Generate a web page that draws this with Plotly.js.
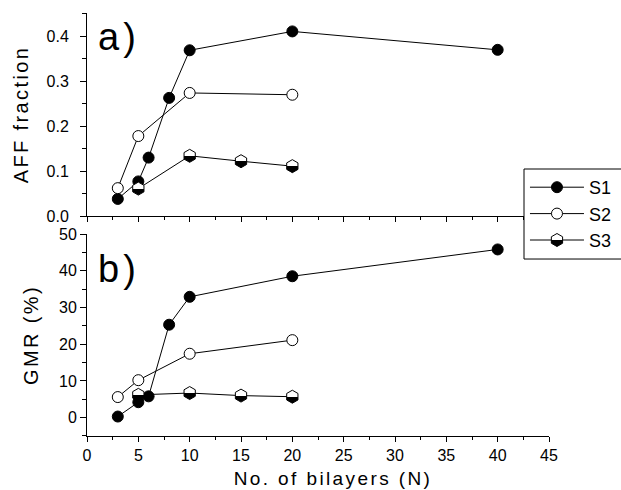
<!DOCTYPE html>
<html>
<head>
<meta charset="utf-8">
<script src="https://cdn.plot.ly/plotly-3.0.1.min.js"></script>
<style>
  html, body { margin: 0; padding: 0; background: #fff; }
  #chart { width: 621px; height: 490px; }
  text.xtitle, text.x2title, text.ytitle, text.y2title { letter-spacing: 2.4px; }
  text.x2title { transform: translate(15px, 0px); }
  .annotation-text { letter-spacing: 4px; }
</style>
</head>
<body>
<div id="chart"></div>
<script>
// Number of bilayers for each sample series
const nS1 = [3, 5, 6, 8, 10, 20, 40];
const nS2 = [3, 5, 10, 20];
const nS3 = [5, 10, 15, 20];

// (a) AFF fraction
const affS1 = [0.038, 0.077, 0.130, 0.263, 0.369, 0.411, 0.370];
const affS2 = [0.062, 0.178, 0.274, 0.270];
const affS3 = [0.061, 0.134, 0.122, 0.111];

// (b) GMR (%)
const gmrS1 = [0.3, 4.2, 5.8, 25.3, 32.9, 38.5, 45.8];
const gmrS2 = [5.6, 10.2, 17.4, 21.1];
const gmrS3 = [6.2, 6.7, 6.0, 5.7];

const seriesNames = ['S1', 'S2', 'S3'];
const xTickVals = [0, 5, 10, 15, 20, 25, 30, 35, 40, 45];

const FONT = '"Liberation Sans", Arial, sans-serif';
const lineStyle = { color: '#000', width: 1 };

const markerS1 = { symbol: 'circle', size: 11, color: '#000', line: { color: '#000', width: 1 } };
const markerS2 = { symbol: 'circle', size: 11, color: '#fff', line: { color: '#000', width: 1 } };
// half-filled hexagon: white top, black bottom (gradient stops sharpened after render)
const markerS3 = { symbol: 'hexagon', size: 13, color: '#fff',
                   gradient: { type: 'vertical', color: '#000' },
                   line: { color: '#000', width: 1 } };

function series(x, y, name, marker, xa, ya, show) {
  return { x: x, y: y, name: name, type: 'scatter', mode: 'lines+markers',
           line: lineStyle, marker: marker, xaxis: xa, yaxis: ya,
           showlegend: show, legendgroup: name };
}

const traces = [
  series(nS1, affS1, seriesNames[0], markerS1, 'x', 'y', true),
  series(nS2, affS2, seriesNames[1], markerS2, 'x', 'y', true),
  series(nS3, affS3, seriesNames[2], markerS3, 'x', 'y', true),
  series(nS1, gmrS1, seriesNames[0], markerS1, 'x2', 'y2', false),
  series(nS2, gmrS2, seriesNames[1], markerS2, 'x2', 'y2', false),
  series(nS3, gmrS3, seriesNames[2], markerS3, 'x2', 'y2', false)
];

const axisBase = {
  showline: true, linecolor: '#000', linewidth: 1,
  showgrid: false, zeroline: false,
  ticks: 'outside', tickcolor: '#000', tickwidth: 1,
  tickfont: { family: FONT, size: 16, color: '#000' }
};

const layout = {
  width: 621, height: 490,
  paper_bgcolor: '#fff', plot_bgcolor: 'rgba(0,0,0,0)',
  font: { family: FONT, color: '#000' },
  margin: { l: 87, r: 72, t: 13, b: 54, autoexpand: false },
  xaxis: Object.assign({}, axisBase, {
    anchor: 'y', domain: [0, 1], range: [0, 45],
    tickvals: xTickVals, ticklen: 5, showticklabels: false,
    minor: { dtick: 2.5, tick0: 0, ticks: 'outside', ticklen: 3, tickcolor: '#000' }
  }),
  yaxis: Object.assign({}, axisBase, {
    anchor: 'x', domain: [0.5201, 1], range: [0, 0.452],
    dtick: 0.1, tick0: 0, tickformat: '.1f', ticklen: 6, ticklabelstandoff: 8,
    minor: { dtick: 0.05, tick0: 0, ticks: 'outside', ticklen: 4, tickcolor: '#000' },
    title: { text: 'AFF fraction', font: { family: FONT, size: 20, color: '#000' }, standoff: 12 }
  }),
  xaxis2: Object.assign({}, axisBase, {
    anchor: 'y2', domain: [0, 1], range: [0, 45],
    tickvals: xTickVals, ticklen: 5,
    minor: { dtick: 2.5, tick0: 0, ticks: 'outside', ticklen: 3, tickcolor: '#000' },
    title: { text: 'No. of bilayers (N)', font: { family: FONT, size: 19, color: '#000' }, standoff: 8 }
  }),
  yaxis2: Object.assign({}, axisBase, {
    anchor: 'x2', domain: [0, 0.4775], range: [-5, 50],
    dtick: 10, tick0: 0, ticklen: 6, ticklabelstandoff: 0,
    minor: { dtick: 5, tick0: 0, ticks: 'outside', ticklen: 4, tickcolor: '#000' },
    title: { text: 'GMR (%)', font: { family: FONT, size: 20, color: '#000' }, standoff: 14 }
  }),
  legend: {
    x: 0.948, y: 0.6312, xanchor: 'left', yanchor: 'top',
    bgcolor: 'rgba(0,0,0,0)', borderwidth: 0,
    font: { family: FONT, size: 18, color: '#000' },
    itemwidth: 54, tracegroupgap: 0
  },
  // legend frame, which runs past the right edge of the figure
  shapes: [
    { type: 'rect', xref: 'paper', yref: 'paper', layer: 'above',
      x0: 0.9459, x1: 1.25, y0: 0.4184, y1: 0.6312,
      fillcolor: '#fff', line: { color: '#000', width: 1 } }
  ],
  annotations: [
    { text: 'a)', xref: 'paper', yref: 'paper', x: 0.0195, y: 0.9433,
      xanchor: 'left', yanchor: 'middle', showarrow: false,
      font: { family: FONT, size: 38, color: '#000' } },
    { text: 'b)', xref: 'paper', yref: 'paper', x: 0.0195, y: 0.3948,
      xanchor: 'left', yanchor: 'middle', showarrow: false,
      font: { family: FONT, size: 38, color: '#000' } }
  ],
  hovermode: false
};

Plotly.newPlot('chart', traces, layout, { staticPlot: true, displayModeBar: false })
  .then(function (gd) {
    // make the vertical marker gradient a hard split at mid-height
    gd.querySelectorAll('linearGradient').forEach(function (g) {
      g.querySelectorAll('stop').forEach(function (s) { s.setAttribute('offset', '0.5'); });
    });
  });
</script>
</body>
</html>
